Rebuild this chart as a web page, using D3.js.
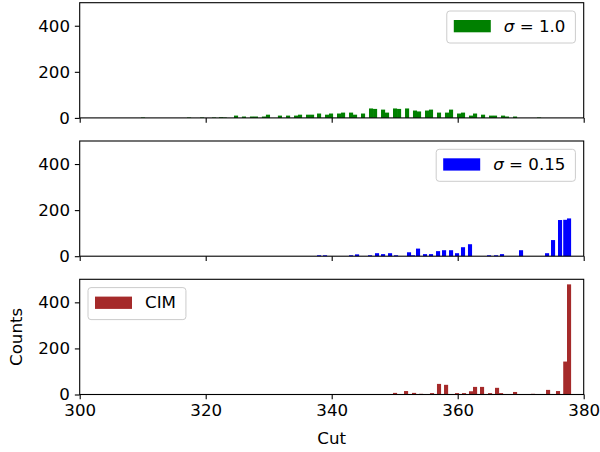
<!DOCTYPE html>
<html>
<head>
<meta charset="utf-8">
<script src="https://cdn.jsdelivr.net/npm/d3@7"></script>
<style>
  html, body { margin: 0; padding: 0; background: #ffffff; }
  svg { display: block; font-family: "DejaVu Sans", sans-serif; }
</style>
</head>
<body>
<svg id="chart" width="600" height="452"></svg>
<script>
// ---------------- data (bin left edge in Cut units, counts) ----------------
const greenCuts = [309.73, 317.03, 319.10, 321.00, 322.10, 322.70, 324.49, 325.75, 327.02, 327.65,
  328.92, 329.56, 331.46, 332.75, 334.02, 334.65, 335.92, 336.56, 337.67, 338.94,
  339.57, 340.84, 341.48, 342.75, 343.38, 344.65, 345.92, 346.56, 347.83, 348.46,
  349.73, 350.37, 351.64, 352.90, 353.54, 354.81, 355.44, 356.71, 357.98, 358.62,
  359.89, 360.52, 361.79, 362.43, 363.70, 364.97, 365.60, 366.87, 367.50, 368.78, 372.59];
const greenCounts = [2, 2, 2, 2, 3, 2, 10, 6, 6, 6,
  6, 14, 10, 10, 10, 14, 14, 14, 19, 14,
  19, 19, 23, 23, 14, 19, 41, 39, 36, 23,
  41, 39, 41, 32, 28, 32, 36, 23, 23, 36,
  19, 23, 10, 19, 14, 10, 10, 10, 6, 6, 2];

const blueCuts = [337.67, 338.62, 342.75, 343.70, 345.76, 346.87, 347.83, 348.94, 349.89, 351.95,
  352.59, 353.38, 354.49, 355.44, 356.56, 357.51, 358.62, 359.57, 360.52, 361.63,
  364.65, 365.76, 366.71, 369.73, 373.86, 374.81, 375.92, 376.75, 377.35];
const blueCounts = [4, 4, 4, 8, 4, 13, 9, 13, 4, 17,
  4, 33, 9, 9, 22, 26, 26, 13, 39, 52,
  4, 4, 9, 26, 13, 70, 157, 158, 164];

const cimCuts = [349.73, 351.00, 351.48, 352.75, 353.86, 354.97, 355.60, 356.71, 357.83, 359.57,
  360.68, 361.79, 362.43, 363.54, 364.81, 365.92, 366.56, 368.78, 371.63, 374.02,
  375.60, 376.75, 377.35];
const cimCounts = [7, 2, 15, 7, 3, 2, 6, 46, 42, 6,
  6, 14, 33, 33, 6, 29, 6, 11, 3, 20,
  15, 143, 478];

const binWidth = 0.65;
const xDomain = [300, 380];
const yDomain = [0, 500];
const xTicks = [300, 320, 340, 360, 380];
const yTicks = [0, 200, 400];
const seriesLabels = ["1.0", "0.15", "CIM"];
const seriesColors = ["#008000", "#0000ff", "#a52a2a"];
const xLabel = "Cut";
const yLabel = "Counts";

// ---------------- layout ----------------
const svg = d3.select("#chart");
const FS = 16.67;
const left = 79.7, right = 583.7;
const panelTops = [2.7, 141.0, 279.3];
const ph = 115.2;
const tickLen = 4.86;

const x = d3.scaleLinear().domain(xDomain).range([left, right]);

const panels = [
  { cuts: greenCuts, counts: greenCounts, legend: "tr", math: true },
  { cuts: blueCuts, counts: blueCounts, legend: "tr", math: true },
  { cuts: cimCuts, counts: cimCounts, legend: "tl", math: false }
];

panels.forEach((p, i) => {
  const top = panelTops[i];
  const y = d3.scaleLinear().domain(yDomain).range([top + ph, top]);
  const g = svg.append("g");
  const data = p.cuts.map((c, k) => ({ c, n: p.counts[k] }));

  g.selectAll("rect.bar").data(data).enter().append("rect")
    .attr("class", "bar")
    .attr("x", d => x(d.c))
    .attr("width", d => x(d.c + binWidth) - x(d.c))
    .attr("y", d => y(d.n))
    .attr("height", d => y(0) - y(d.n))
    .attr("fill", seriesColors[i]);

  // axes
  const xa = d3.axisBottom(x).tickValues(xTicks).tickSize(tickLen).tickPadding(tickLen)
    .tickFormat(i === 2 ? d3.format("d") : () => "");
  const gx = g.append("g").attr("transform", `translate(0,${top + ph})`).call(xa);
  const ya = d3.axisLeft(y).tickValues(yTicks).tickSize(tickLen).tickPadding(tickLen)
    .tickFormat(d3.format("d"));
  const gy = g.append("g").attr("transform", `translate(${left},0)`).call(ya);
  [gx, gy].forEach(ax => {
    ax.select(".domain").remove();
    ax.selectAll("line").attr("stroke", "#000").attr("stroke-width", 1.1);
    ax.selectAll("text").attr("fill", "#000").style("font-size", FS + "px")
      .style("font-family", '"DejaVu Sans", sans-serif');
  });

  // frame
  g.append("rect").attr("x", left).attr("y", top).attr("width", right - left).attr("height", ph)
    .attr("fill", "none").attr("stroke", "#000").attr("stroke-width", 1.1);

  // legend
  const lg = g.append("g");
  const boxTop = top + 8.3;
  const txt = lg.append("text").attr("y", boxTop + 20.7).style("font-size", FS + "px").attr("fill", "#000");
  if (p.math) {
    txt.append("tspan").style("font-style", "italic").text("σ");
    txt.append("tspan").text(" = " + seriesLabels[i]);
  } else {
    txt.text(seriesLabels[i]);
  }
  const tw = txt.node().getComputedTextLength();
  const boxW = 7 + 37 + 13 + tw + 10;
  const boxLeft = p.legend === "tr" ? right - 8.3 - boxW : left + 8.3;
  lg.insert("rect", "text").attr("x", boxLeft).attr("y", boxTop).attr("width", boxW).attr("height", 32)
    .attr("rx", 3).attr("fill", "#fff").attr("fill-opacity", 0.8).attr("stroke", "#cccccc").attr("stroke-width", 1);
  lg.insert("rect", "text").attr("x", boxLeft + 7).attr("y", boxTop + 9).attr("width", 37).attr("height", 12.3)
    .attr("fill", seriesColors[i]);
  txt.attr("x", boxLeft + 7 + 37 + 13);
});

// axis labels
svg.append("text").attr("x", (left + right) / 2).attr("y", 444).attr("text-anchor", "middle")
  .style("font-size", FS + "px").attr("fill", "#000").text(xLabel);
svg.append("text").attr("transform", `translate(22,${panelTops[2] + ph / 2}) rotate(-90)`)
  .attr("text-anchor", "middle").style("font-size", FS + "px").attr("fill", "#000").text(yLabel);
</script>
</body>
</html>
